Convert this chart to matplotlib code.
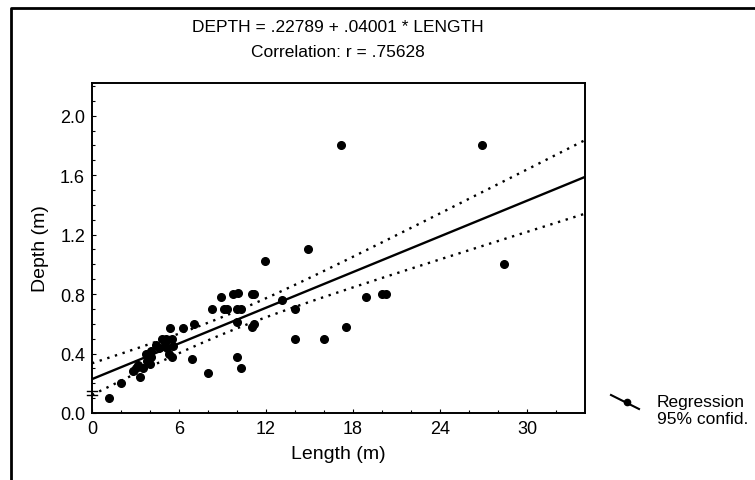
import numpy as np
import matplotlib
matplotlib.use("Agg")
import matplotlib.pyplot as plt
from matplotlib.lines import Line2D

plt.rcParams['font.family'] = ['Liberation Sans', 'DejaVu Sans']

# data
length = [1.2, 2.0, 2.8, 3.0, 3.2, 3.3, 3.5, 3.7, 3.8, 4.0, 4.1, 4.1, 4.4, 4.6,
          4.8, 5.0, 5.1, 5.2, 5.3, 5.5, 5.4, 5.6, 5.5, 6.3, 7.0, 6.9, 8.0, 8.3,
          8.9, 9.1, 9.3, 9.7, 10.1, 10.0, 10.3, 10.0, 10.0, 10.3, 11.0, 11.2,
          11.0, 11.2, 11.9, 13.1, 14.0, 14.0, 14.9, 16.0, 17.2, 17.5, 18.9,
          20.0, 20.3, 26.9, 28.4]
depth = [0.10, 0.20, 0.28, 0.30, 0.32, 0.24, 0.30, 0.40, 0.35, 0.33, 0.38, 0.42,
         0.46, 0.44, 0.50, 0.47, 0.50, 0.44, 0.40, 0.50, 0.57, 0.45, 0.38, 0.57,
         0.60, 0.36, 0.27, 0.70, 0.78, 0.70, 0.70, 0.80, 0.81, 0.70, 0.70, 0.61,
         0.38, 0.30, 0.80, 0.80, 0.58, 0.60, 1.02, 0.76, 0.70, 0.50, 1.10, 0.50,
         1.80, 0.58, 0.78, 0.80, 0.80, 1.80, 1.00]

intercept = 0.22789
slope = 0.04001
r_value = 0.75628

xticks = [0, 6, 12, 18, 24, 30]
yticks = [0.0, 0.4, 0.8, 1.2, 1.6, 2.0]

x = np.array(length)
y = np.array(depth)
n = len(x)

# regression line and 95% confidence band for the mean
xx = np.linspace(0, 34, 200)
yy = intercept + slope * xx
resid = y - (intercept + slope * x)
s = np.sqrt(np.sum(resid ** 2) / (n - 2))
sxx = np.sum((x - x.mean()) ** 2)
half = 2.0 * s * np.sqrt(1.0 / n + (xx - x.mean()) ** 2 / sxx)

fig = plt.figure(figsize=(7.55, 4.81), dpi=100)
ax = fig.add_axes([92 / 755, 1 - 414 / 481, (585 - 92) / 755, (414 - 84) / 481])

ax.plot(xx, yy, color='black', lw=1.7, zorder=3)
ax.plot(xx, yy + half, color='black', lw=1.7, ls=(0, (1, 2.4)), zorder=3)
ax.plot(xx, yy - half, color='black', lw=1.7, ls=(0, (1, 2.4)), zorder=3)
ax.plot(x, y, 'o', color='black', markersize=5.5, zorder=4)

ax.set_xlim(0, 34)
ax.set_ylim(0, 2.22)
ax.set_xticks(xticks)
ax.set_yticks(yticks)
ax.set_yticklabels(["%.1f" % v for v in yticks])
ax.set_xticks(np.arange(0, 34, 2), minor=True)
ax.set_yticks(np.arange(0, 2.21, 0.1), minor=True)
ax.tick_params(which='both', direction='in', labelsize=13, width=0.8)
ax.tick_params(which='major', length=3, pad=5)
ax.tick_params(which='minor', length=2)
for sp in ax.spines.values():
    sp.set_linewidth(1.4)

ax.set_xlabel("Length (m)", fontsize=14, labelpad=6)
ax.set_ylabel("Depth (m)", fontsize=14, labelpad=8)

# axis break mark on the y axis
for yb in (0.12, 0.145):
    ax.plot([-0.35, 0.35], [yb, yb], color='black', lw=1.0, clip_on=False, zorder=5)

fig.text(338 / 755, 1 - 27 / 481, "DEPTH = .22789 + .04001 * LENGTH",
         ha='center', va='center', fontsize=12.5)
fig.text(338 / 755, 1 - 53 / 481, "Correlation: r = %s" % ("%.5f" % r_value)[1:],
         ha='center', va='center', fontsize=12.5)

# legend drawn by hand
fig.add_artist(Line2D([611 / 755, 639 / 755], [1 - 396 / 481, 1 - 410 / 481],
                      color='black', lw=1.5))
fig.add_artist(Line2D([627 / 755], [1 - 403 / 481], marker='o', color='black',
                      markersize=4.5))
fig.text(657 / 755, 1 - 403 / 481, "Regression", ha='left', va='center', fontsize=12.5)
fig.text(657 / 755, 1 - 420 / 481, "95% confid.", ha='left', va='center', fontsize=12.5)

# outer frame (left and top)
fig.add_artist(Line2D([11 / 755, 11 / 755, 1], [0, 1 - 9 / 481, 1 - 9 / 481],
                      color='black', lw=2))

fig.savefig("out.png", dpi=100)
